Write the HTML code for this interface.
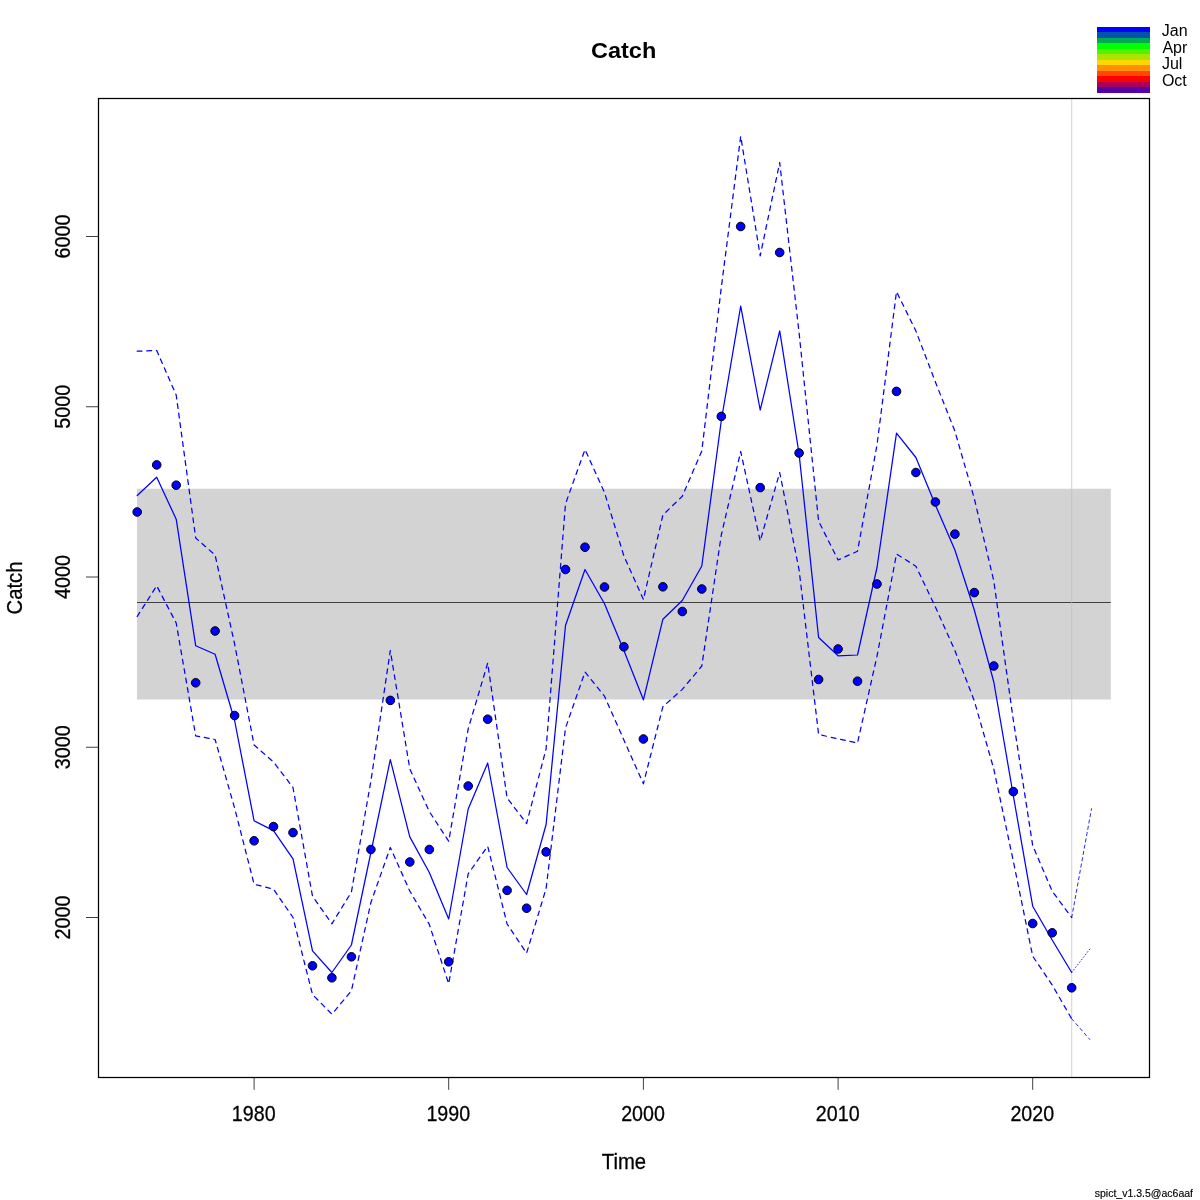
<!DOCTYPE html>
<html><head><meta charset="utf-8"><title>Catch</title>
<style>
html,body{margin:0;padding:0;background:#fff}
svg{display:block}
text{font-family:"Liberation Sans",Arial,Helvetica,sans-serif;fill:#000}
</style></head><body>
<svg width="1200" height="1200" viewBox="0 0 1200 1200">
<rect width="1200" height="1200" fill="#fff"/>
<rect x="137" y="488.75" width="973.8" height="210.75" fill="#D3D3D3"/>
<line x1="137" y1="602.5" x2="1110.8" y2="602.5" stroke="#000" stroke-width="0.7"/>
<line x1="1071.73" y1="98" x2="1071.73" y2="1077" stroke="#BEBEBE" stroke-width="0.69"/>
<g fill="none" stroke="#0000FF" stroke-width="1.25" stroke-linejoin="round" stroke-linecap="round">
<polyline points="137.2,495.5 156.7,477.2 176.2,519.2 195.7,645.8 215.1,654.2 234.6,720.5 254.1,820.8 273.5,830.6 293.0,858.8 312.5,950.8 331.9,972.5 351.4,945.0 370.9,852.5 390.3,759.6 409.8,836.9 429.3,872.5 448.7,919.0 468.2,809.0 487.7,763.0 507.1,867.5 526.6,894.5 546.1,824.5 565.5,625.5 585.0,569.5 604.5,603.8 623.9,650.5 643.4,699.8 662.9,619.2 682.3,600.5 701.8,566.0 721.3,420.5 740.7,306.2 760.2,410.0 779.7,330.8 799.1,454.0 818.6,637.5 838.1,655.8 857.5,655.0 877.0,567.5 896.5,433.2 915.9,457.5 935.4,505.0 954.9,550.0 974.3,610.0 993.8,682.0 1013.3,795.5 1032.7,906.2 1052.2,940.0 1071.7,972.5"/>
<polyline points="137.2,351.2 156.7,350.5 176.2,395.0 195.7,538.0 215.1,555.0 234.6,644.0 254.1,745.0 273.5,762.0 293.0,787.5 312.5,896.2 331.9,923.8 351.4,892.0 370.9,781.0 390.3,650.5 409.8,768.8 429.3,811.5 448.7,841.2 468.2,728.8 487.7,663.0 507.1,798.0 526.6,823.5 546.1,748.8 565.5,503.8 585.0,449.5 604.5,492.5 623.9,556.0 643.4,599.5 662.9,515.0 682.3,496.2 701.8,451.0 721.3,287.5 740.7,136.2 760.2,255.8 779.7,162.5 799.1,333.0 818.6,521.2 838.1,560.0 857.5,551.2 877.0,445.0 896.5,291.6 915.9,331.0 935.4,382.0 954.9,431.2 974.3,498.5 993.8,581.0 1013.3,720.0 1032.7,845.5 1052.2,891.2 1071.7,917.5" stroke-dasharray="4.8 4.8"/>
<polyline points="137.2,616.5 156.7,585.8 176.2,623.0 195.7,735.8 215.1,739.5 234.6,808.0 254.1,884.2 273.5,889.2 293.0,917.5 312.5,994.5 331.9,1014.2 351.4,990.8 370.9,902.5 390.3,847.5 409.8,891.0 429.3,924.4 448.7,983.8 468.2,873.8 487.7,846.2 507.1,924.0 526.6,953.2 546.1,888.5 565.5,728.0 585.0,672.0 604.5,696.2 623.9,740.0 643.4,783.8 662.9,706.6 682.3,689.4 701.8,666.0 721.3,535.0 740.7,451.5 760.2,541.0 779.7,472.5 799.1,570.0 818.6,734.5 838.1,738.8 857.5,743.0 877.0,656.2 896.5,554.0 915.9,566.2 935.4,607.0 954.9,650.5 974.3,700.8 993.8,769.0 1013.3,861.0 1032.7,956.2 1052.2,985.0 1071.7,1018.8" stroke-dasharray="4.8 4.8"/>
</g>
<g fill="none" stroke="#0000FF" stroke-width="0.85" stroke-linecap="round">
<line x1="1071.7" y1="972.5" x2="1091.0" y2="947.5" stroke-dasharray="0.8 2.4"/>
<line x1="1071.7" y1="917.5" x2="1091.5" y2="808.75" stroke-dasharray="3.2 3.2"/>
<line x1="1071.7" y1="1018.75" x2="1089.8" y2="1039.5" stroke-dasharray="3.2 3.2"/>
</g>
<g fill="#0000FF" stroke="#000" stroke-width="1"><circle cx="137.2" cy="512.0" r="4.3"/><circle cx="156.7" cy="464.9" r="4.3"/><circle cx="176.2" cy="485.2" r="4.3"/><circle cx="195.7" cy="682.8" r="4.3"/><circle cx="215.1" cy="631.0" r="4.3"/><circle cx="234.6" cy="715.5" r="4.3"/><circle cx="254.1" cy="840.8" r="4.3"/><circle cx="273.5" cy="826.6" r="4.3"/><circle cx="293.0" cy="832.6" r="4.3"/><circle cx="312.5" cy="965.8" r="4.3"/><circle cx="331.9" cy="977.8" r="4.3"/><circle cx="351.4" cy="956.8" r="4.3"/><circle cx="370.9" cy="849.5" r="4.3"/><circle cx="390.3" cy="700.4" r="4.3"/><circle cx="409.8" cy="862.0" r="4.3"/><circle cx="429.3" cy="849.5" r="4.3"/><circle cx="448.7" cy="961.8" r="4.3"/><circle cx="468.2" cy="786.0" r="4.3"/><circle cx="487.7" cy="719.2" r="4.3"/><circle cx="507.1" cy="890.4" r="4.3"/><circle cx="526.6" cy="908.2" r="4.3"/><circle cx="546.1" cy="851.9" r="4.3"/><circle cx="565.5" cy="569.5" r="4.3"/><circle cx="585.0" cy="547.2" r="4.3"/><circle cx="604.5" cy="587.0" r="4.3"/><circle cx="623.9" cy="646.8" r="4.3"/><circle cx="643.4" cy="739.0" r="4.3"/><circle cx="662.9" cy="586.8" r="4.3"/><circle cx="682.3" cy="611.5" r="4.3"/><circle cx="701.8" cy="589.0" r="4.3"/><circle cx="721.3" cy="416.4" r="4.3"/><circle cx="740.7" cy="226.5" r="4.3"/><circle cx="760.2" cy="487.6" r="4.3"/><circle cx="779.7" cy="252.5" r="4.3"/><circle cx="799.1" cy="453.0" r="4.3"/><circle cx="818.6" cy="679.5" r="4.3"/><circle cx="838.1" cy="649.0" r="4.3"/><circle cx="857.5" cy="681.2" r="4.3"/><circle cx="877.0" cy="584.0" r="4.3"/><circle cx="896.5" cy="391.4" r="4.3"/><circle cx="915.9" cy="472.5" r="4.3"/><circle cx="935.4" cy="502.0" r="4.3"/><circle cx="954.9" cy="534.1" r="4.3"/><circle cx="974.3" cy="592.6" r="4.3"/><circle cx="993.8" cy="666.0" r="4.3"/><circle cx="1013.3" cy="791.6" r="4.3"/><circle cx="1032.7" cy="923.5" r="4.3"/><circle cx="1052.2" cy="932.8" r="4.3"/><circle cx="1071.7" cy="987.8" r="4.3"/></g>
<rect x="98.5" y="98.5" width="1051" height="979" fill="none" stroke="#000" stroke-width="1.25"/>
<g stroke="#000" stroke-width="0.75"><line x1="254.1" y1="1077.5" x2="254.1" y2="1089.8"/><line x1="448.7" y1="1077.5" x2="448.7" y2="1089.8"/><line x1="643.4" y1="1077.5" x2="643.4" y2="1089.8"/><line x1="838.1" y1="1077.5" x2="838.1" y2="1089.8"/><line x1="1032.7" y1="1077.5" x2="1032.7" y2="1089.8"/><line x1="86" y1="917.5" x2="98.5" y2="917.5"/><line x1="86" y1="747.25" x2="98.5" y2="747.25"/><line x1="86" y1="577.0" x2="98.5" y2="577.0"/><line x1="86" y1="406.75" x2="98.5" y2="406.75"/><line x1="86" y1="236.5" x2="98.5" y2="236.5"/></g>
<g font-size="19.2px" stroke="#000" stroke-width="0.25"><text transform="translate(253.7,1120.8) scale(1.025,1.14)" text-anchor="middle">1980</text><text transform="translate(448.3,1120.8) scale(1.025,1.14)" text-anchor="middle">1990</text><text transform="translate(643.0,1120.8) scale(1.025,1.14)" text-anchor="middle">2000</text><text transform="translate(837.7,1120.8) scale(1.025,1.14)" text-anchor="middle">2010</text><text transform="translate(1032.3,1120.8) scale(1.025,1.14)" text-anchor="middle">2020</text><text transform="translate(70,917.5) rotate(-90) scale(1.03,1.14)" text-anchor="middle">2000</text><text transform="translate(70,747.25) rotate(-90) scale(1.03,1.14)" text-anchor="middle">3000</text><text transform="translate(70,577.0) rotate(-90) scale(1.03,1.14)" text-anchor="middle">4000</text><text transform="translate(70,406.75) rotate(-90) scale(1.03,1.14)" text-anchor="middle">5000</text><text transform="translate(70,236.5) rotate(-90) scale(1.03,1.14)" text-anchor="middle">6000</text>
<text transform="translate(623.9,1168.6) scale(1.056,1.14)" text-anchor="middle">Time</text>
<text transform="translate(22.1,588) rotate(-90) scale(1.056,1.14)" text-anchor="middle">Catch</text>
</g>
<text transform="translate(623.6,58.3) scale(1,0.96)" text-anchor="middle" font-size="23.5px" font-weight="bold">Catch</text>
<rect x="1097" y="27" width="53" height="5" fill="#0000FF"/><rect x="1097" y="32" width="53" height="6" fill="#0055AA"/><rect x="1097" y="38" width="53" height="5" fill="#00AA55"/><rect x="1097" y="43" width="53" height="6" fill="#00FF00"/><rect x="1097" y="49" width="53" height="5" fill="#55F100"/><rect x="1097" y="54" width="53" height="6" fill="#AAE400"/><rect x="1097" y="60" width="53" height="5" fill="#FFD700"/><rect x="1097" y="65" width="53" height="6" fill="#FF8F00"/><rect x="1097" y="71" width="53" height="5" fill="#FF4800"/><rect x="1097" y="76" width="53" height="6" fill="#FF0000"/><rect x="1097" y="82" width="53" height="5" fill="#AA0055"/><rect x="1097" y="87" width="53" height="6" fill="#5500AA"/>
<g font-size="16px"><text x="1161.8" y="35.5">Jan</text><text x="1162.4" y="53">Apr</text><text x="1161.9" y="68.8">Jul</text><text x="1161.9" y="85.5">Oct</text></g>
<text x="1193" y="1197.2" text-anchor="end" font-size="10.5px" stroke="#000" stroke-width="0.15">spict_v1.3.5@ac6aaf</text>
</svg>
</body></html>
